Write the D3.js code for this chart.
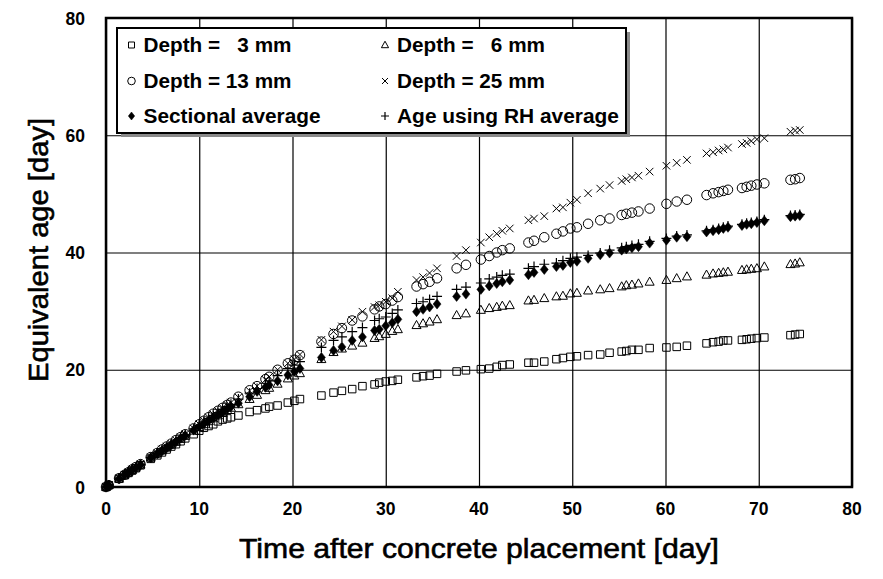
<!DOCTYPE html>
<html><head><meta charset="utf-8">
<script src="https://cdn.jsdelivr.net/npm/d3@7"></script>
<style>
html,body{margin:0;padding:0;background:#fff;}
svg{display:block;}
text{font-family:"Liberation Sans",Arial,sans-serif;}
</style></head>
<body>
<svg id="chart" width="883" height="579"></svg>
<script>
// ---- data ----
const times = [0,0.3,1.4,2.0,2.4,2.8,3.2,3.7,4.8,5.5,6.0,6.5,7.0,7.5,8.0,8.5,
 9.4,10.0,10.5,11.0,11.5,12.0,12.5,13.0,13.4,14.2,
 15.4,16.2,17.1,17.5,18.4,19.5,20.2,20.8,
 23.1,24.4,25.3,26.4,27.5,28.8,29.3,30.0,30.7,31.3,
 33.3,34.0,34.7,35.5,37.6,38.6,40.2,41.1,41.9,42.5,43.3,
 45.3,45.9,47.0,48.3,49.0,49.8,50.5,51.7,53.0,54.0,
 55.3,55.8,56.4,57.1,58.3,60.1,61.2,62.3,
 64.4,65.1,65.7,66.2,66.7,68.2,68.7,69.2,69.8,70.6,
 73.4,73.9,74.4];

const depth3 = [0,0.3,1.4,2.0,2.4,2.8,3.2,3.7,4.8,5.4,5.9,6.4,6.9,7.3,7.8,8.3,
 9.0,9.6,10.1,10.4,10.7,11.2,11.5,11.7,11.9,12.2,
 12.8,13.1,13.4,13.7,13.9,14.4,14.7,15.0,
 15.6,16.1,16.4,16.7,17.2,17.5,17.8,18.0,18.1,18.3,
 18.7,18.9,19.0,19.3,19.7,19.9,20.1,20.2,20.5,20.8,20.9,
 21.2,21.2,21.4,21.8,22.0,22.2,22.3,22.5,22.6,22.9,
 23.1,23.2,23.4,23.4,23.7,23.8,23.9,24.1,
 24.5,24.7,24.8,25.0,25.0,25.1,25.2,25.3,25.4,25.5,
 25.9,26.0,26.1];

const depth6 = [0,0.3,1.4,2.1,2.5,2.9,3.3,3.8,5.0,5.7,6.2,6.7,7.2,7.7,8.2,8.7,
 9.6,10.2,10.7,11.2,11.7,12.2,12.6,13.1,13.5,14.1,
 15.0,15.7,16.5,16.9,17.6,18.5,19.0,19.4,
 21.8,23.0,23.6,24.1,24.6,25.4,25.7,26.1,26.6,26.9,
 27.6,27.9,28.2,28.6,29.3,29.6,30.2,30.5,30.7,30.9,31.0,
 31.8,31.9,32.2,32.5,32.6,33.0,33.1,33.5,33.7,33.9,
 34.2,34.4,34.5,34.7,35.0,35.3,35.6,35.9,
 36.2,36.4,36.5,36.6,36.7,37.0,37.1,37.2,37.3,37.6,
 38.0,38.1,38.3];

const depth13 = [0,0.3,1.5,2.1,2.5,3.0,3.4,3.9,5.1,5.8,6.4,6.9,7.4,8.0,8.5,9.0,
 10.0,10.7,11.3,11.9,12.5,13.0,13.5,14.0,14.4,15.4,
 16.5,17.2,18.4,18.8,20.0,21.1,21.7,22.5,
 24.8,26.1,27.1,28.4,29.1,30.3,30.8,31.2,31.8,32.4,
 34.2,34.6,35.0,35.6,37.3,37.9,38.8,39.4,40.0,40.4,40.7,
 41.7,42.0,42.6,43.2,43.6,44.1,44.3,44.9,45.5,45.8,
 46.4,46.6,46.8,47.0,47.5,48.3,48.7,49.0,
 49.8,50.1,50.3,50.5,50.7,51.0,51.2,51.4,51.6,51.8,
 52.4,52.5,52.7];

const depth25 = [0,0.3,1.5,2.1,2.5,3.0,3.4,3.9,5.1,5.8,6.4,6.9,7.4,8.0,8.5,9.0,
 10.0,10.7,11.3,11.9,12.4,13.0,13.5,14.0,14.4,15.3,
 16.4,17.2,18.3,18.8,20.0,21.1,21.8,22.6,
 25.1,26.5,27.4,28.5,29.9,30.7,31.0,31.6,32.2,33.3,
 35.3,35.8,36.5,37.3,39.4,40.4,41.7,42.6,43.2,43.7,44.1,
 45.5,45.8,46.2,47.5,47.7,48.5,49.0,50.1,50.9,51.5,
 52.2,52.5,52.8,53.1,53.8,54.8,55.3,55.8,
 56.9,57.1,57.4,57.6,57.9,58.5,58.7,59.0,59.3,59.5,
 60.6,60.8,60.9];

const sectionalAvg = [0,0.3,1.4,2.1,2.5,2.9,3.3,3.8,5.0,5.7,6.2,6.7,7.2,7.7,8.3,8.8,
 9.7,10.3,10.8,11.3,11.8,12.3,12.8,13.3,13.7,14.3,
 15.4,16.3,17.0,17.4,18.1,19.1,19.7,20.2,
 22.1,23.3,23.9,25.0,25.6,26.7,26.9,27.5,28.0,28.6,
 29.9,30.3,30.7,31.2,32.5,32.9,33.7,34.3,34.7,35.0,35.3,
 36.2,36.6,37.1,37.6,37.8,38.3,38.5,39.0,39.6,39.9,
 40.4,40.6,40.8,41.0,41.6,42.1,42.6,42.7,
 43.5,43.7,43.9,44.1,44.3,44.6,44.8,44.9,45.1,45.4,
 46.1,46.2,46.3];

const rhAverage = [0,0.3,1.4,2.1,2.5,2.9,3.3,3.8,5.0,5.7,6.2,6.7,7.3,7.8,8.4,8.9,
 9.9,10.5,11.1,11.7,12.2,12.7,13.2,13.7,14.1,15.0,
 16.0,16.8,17.7,18.1,19.0,20.2,20.8,21.4,
 23.8,25.0,25.6,26.5,27.2,28.4,28.7,29.0,29.6,30.2,
 31.3,31.6,32.0,32.5,33.7,34.1,34.8,35.5,35.8,36.1,36.3,
 37.3,37.6,38.0,38.2,38.6,39.0,39.2,39.5,39.9,40.4,
 40.8,41.0,41.2,41.4,41.9,42.4,42.8,43.0,
 43.7,43.9,44.1,44.3,44.5,44.8,45.0,45.1,45.3,45.6,
 46.3,46.4,46.5];

const seriesNames = ["Depth =   3 mm","Depth =   6 mm","Depth = 13 mm","Depth = 25 mm","Sectional average","Age using RH average"];
const xTicks = [0,10,20,30,40,50,60,70,80];
const yTicks = [0,20,40,60,80];
const xTitle = "Time after concrete placement [day]";
const yTitle = "Equivalent age [day]";

// ---- layout ----
const svg = d3.select("#chart");
const L = 106, R = 852, T = 18, B = 487;
const x = d3.scaleLinear().domain([0,80]).range([L,R]);
const y = d3.scaleLinear().domain([0,80]).range([B,T]);

// custom symbols
const sq = {draw(c,s){const h=s/2;c.moveTo(-h,-h);c.lineTo(h,-h);c.lineTo(h,h);c.lineTo(-h,h);c.closePath();}};
const tri = {draw(c,s){const h=s/2;c.moveTo(0,-h*1.05);c.lineTo(h,h*0.75);c.lineTo(-h,h*0.75);c.closePath();}};
const circ = {draw(c,s){const r=s/2;c.moveTo(r,0);c.arc(0,0,r,0,2*Math.PI);}};
const times_ = {draw(c,s){const h=s/2;c.moveTo(-h,-h);c.lineTo(h,h);c.moveTo(-h,h);c.lineTo(h,-h);}};
const plus = {draw(c,s){const h=s/2;c.moveTo(-h,0);c.lineTo(h,0);c.moveTo(0,-h);c.lineTo(0,h);}};
const diam = {draw(c,s){const w=s/2*0.8,h=s/2;c.moveTo(0,-h);c.lineTo(w,0);c.lineTo(0,h);c.lineTo(-w,0);c.closePath();}};
function symPath(type,size){
  const p = d3.path(); type.draw(p,size); return p.toString();
}

const series = [
  {name:seriesNames[0], vals:depth3, type:sq, size:7.5, fill:"none", sw:1, tl:148},
  {name:seriesNames[1], vals:depth6, type:tri, size:9, fill:"none", sw:1, tl:148},
  {name:seriesNames[2], vals:depth13, type:circ, size:9.5, fill:"none", sw:1, tl:148},
  {name:seriesNames[3], vals:depth25, type:times_, size:7.5, fill:"none", sw:1, tl:148},
  {name:seriesNames[4], vals:sectionalAvg, type:diam, size:10, fill:"#000", sw:0.5, tl:177},
  {name:seriesNames[5], vals:rhAverage, type:plus, size:10, fill:"none", sw:1.2, tl:222}
];

// gridlines
const grid = svg.append("g");
grid.append("g").attr("transform",`translate(0,${B})`)
  .call(d3.axisBottom(x).tickValues(xTicks).tickSize(-(B-T)).tickFormat(""))
  .call(g=>g.select(".domain").remove())
  .call(g=>g.selectAll("line").attr("stroke","#000").attr("stroke-width",1.2));
grid.append("g").attr("transform",`translate(${L},0)`)
  .call(d3.axisLeft(y).tickValues(yTicks).tickSize(-(R-L)).tickFormat(""))
  .call(g=>g.select(".domain").remove())
  .call(g=>g.selectAll("line").attr("stroke","#000").attr("stroke-width",1.2));

// tick labels
svg.append("g").selectAll("text").data(xTicks).join("text")
  .attr("x",d=>x(d)).attr("y",515).attr("text-anchor","middle")
  .attr("font-size",17.5).attr("font-weight","bold").text(d=>d);
svg.append("g").selectAll("text").data(yTicks).join("text")
  .attr("x",85).attr("y",d=>y(d)+6.5).attr("text-anchor","end")
  .attr("font-size",17.5).attr("font-weight","bold").text(d=>d);

// points
series.forEach(s=>{
  const d = symPath(s.type,s.size);
  svg.append("g").selectAll("path").data(times.map((t,i)=>[t,s.vals[i]])).join("path")
    .attr("d",d).attr("transform",p=>`translate(${x(p[0])},${y(p[1])})`)
    .attr("fill",s.fill).attr("stroke","#000").attr("stroke-width",s.sw);
});

// frame
svg.append("rect").attr("x",L).attr("y",T).attr("width",R-L).attr("height",B-T)
  .attr("fill","none").attr("stroke","#000").attr("stroke-width",2.5);

// axis titles
svg.append("text").attr("x",(L+R)/2).attr("y",558).attr("text-anchor","middle")
  .attr("font-size",28).attr("textLength",480).attr("lengthAdjust","spacingAndGlyphs")
  .attr("stroke","#000").attr("stroke-width",0.6).text(xTitle);
svg.append("text").attr("transform","translate(48,250) rotate(-90)").attr("text-anchor","middle")
  .attr("font-size",28).attr("textLength",264).attr("lengthAdjust","spacingAndGlyphs")
  .attr("stroke","#000").attr("stroke-width",0.6).text(yTitle);

// legend
const lg = svg.append("g");
lg.append("rect").attr("x",121).attr("y",32).attr("width",509).attr("height",105).attr("fill","#8a8a8a");
lg.append("rect").attr("x",117).attr("y",28).attr("width",509).attr("height",105)
  .attr("fill","#fff").attr("stroke","#000").attr("stroke-width",2);
const legPos = [[131.5,45],[385,45],[131.5,81],[385,81],[131.5,116],[385,116]];
const legOrder = [0,1,2,3,4,5];
legOrder.forEach((si,k)=>{
  const s = series[si]; const [lx,ly] = legPos[k];
  lg.append("path").attr("d",symPath(s.type,s.size*0.8)).attr("transform",`translate(${lx},${ly})`)
    .attr("fill",s.fill).attr("stroke","#000").attr("stroke-width",s.sw);
  lg.append("text").attr("x",lx+12).attr("y",ly+7).attr("font-size",19.5).attr("font-weight","bold")
    .attr("textLength",s.tl).attr("lengthAdjust","spacingAndGlyphs")
    .attr("xml:space","preserve").style("white-space","pre").text(s.name);
});
</script>
</body></html>
